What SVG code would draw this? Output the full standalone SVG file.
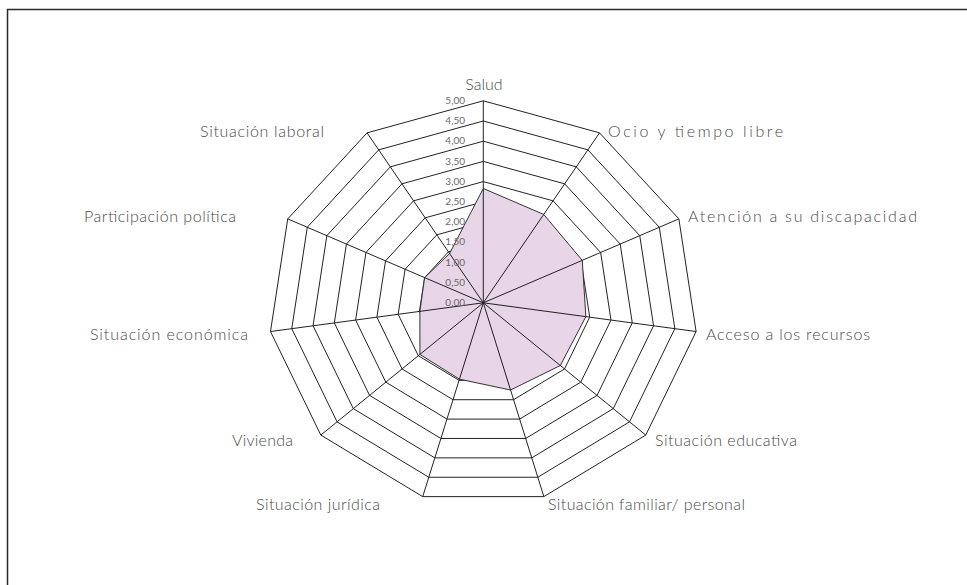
<svg xmlns="http://www.w3.org/2000/svg" width="967" height="585" viewBox="0 0 967 585">
<style>
.ring{fill:none;stroke:#222;stroke-width:1}
.spoke{stroke:#222;stroke-width:1}
.data{fill:#E8D5E8;stroke:#333;stroke-width:1}
.tick{font-family:Lato,"Liberation Sans",sans-serif;font-size:10px;fill:#6a6a6a;text-anchor:end}
.lab{font-family:Lato,"Liberation Sans",sans-serif;font-weight:300;font-size:16px;fill:#4a4a4a}
</style>
<rect x="0" y="0" width="967" height="585" fill="#fff"/>
<rect x="7.5" y="9.5" width="980" height="600" fill="none" stroke="#2a2a2a" stroke-width="1.5"/>
<g id="grid" transform="translate(483.3 302.8)">
<polygon class="ring" points="0,-20.2 11.62,-16.99 19.56,-8.39 21.28,2.87 16.25,13.23 6.06,19.38 -6.06,19.38 -16.25,13.23 -21.28,2.87 -19.56,-8.39 -11.62,-16.99"/>
<polygon class="ring" points="0,-40.4 23.25,-33.99 39.11,-16.78 42.56,5.75 32.5,26.46 12.11,38.76 -12.11,38.76 -32.5,26.46 -42.56,5.75 -39.11,-16.78 -23.25,-33.99"/>
<polygon class="ring" points="0,-60.6 34.87,-50.98 58.67,-25.17 63.84,8.62 48.74,39.69 18.17,58.15 -18.17,58.15 -48.74,39.69 -63.84,8.62 -58.67,-25.17 -34.87,-50.98"/>
<polygon class="ring" points="0,-80.8 46.49,-67.98 78.22,-33.56 85.12,11.5 64.99,52.92 24.23,77.53 -24.23,77.53 -64.99,52.92 -85.12,11.5 -78.22,-33.56 -46.49,-67.98"/>
<polygon class="ring" points="0,-101 58.12,-84.97 97.78,-41.96 106.41,14.37 81.24,66.15 30.29,96.91 -30.29,96.91 -81.24,66.15 -106.41,14.37 -97.78,-41.96 -58.12,-84.97"/>
<polygon class="ring" points="0,-121.2 69.74,-101.96 117.34,-50.35 127.69,17.24 97.49,79.37 36.34,116.29 -36.34,116.29 -97.49,79.37 -127.69,17.24 -117.34,-50.35 -69.74,-101.96"/>
<polygon class="ring" points="0,-141.4 81.36,-118.96 136.89,-58.74 148.97,20.12 113.74,92.6 42.4,135.67 -42.4,135.67 -113.74,92.6 -148.97,20.12 -136.89,-58.74 -81.36,-118.96"/>
<polygon class="ring" points="0,-161.6 92.98,-135.95 156.45,-67.13 170.25,22.99 129.98,105.83 48.46,155.06 -48.46,155.06 -129.98,105.83 -170.25,22.99 -156.45,-67.13 -92.98,-135.95"/>
<polygon class="ring" points="0,-181.8 104.61,-152.95 176,-75.52 191.53,25.87 146.23,119.06 54.51,174.44 -54.51,174.44 -146.23,119.06 -191.53,25.87 -176,-75.52 -104.61,-152.95"/>
<polygon class="ring" points="0,-202 116.23,-169.94 195.56,-83.91 212.81,28.74 162.48,132.29 60.57,193.82 -60.57,193.82 -162.48,132.29 -212.81,28.74 -195.56,-83.91 -116.23,-169.94"/>
</g>
<g id="serie" transform="translate(483.3 302.8)">
<polygon class="data" points="0,-114.3 60.44,-88.37 98.95,-42.46 102.57,13.85 77.02,62.71 27.26,87.22 -23.86,76.37 -63.37,51.59 -63.42,8.56 -58.67,-25.17 -33.71,-49.28"/>
</g>
<g id="connectors" transform="translate(483.3 302.8)">
<line class="spoke" x1="0" y1="0" x2="0" y2="-202"/>
<line class="spoke" x1="0" y1="0" x2="116.23" y2="-169.94"/>
<line class="spoke" x1="0" y1="0" x2="195.56" y2="-83.91"/>
<line class="spoke" x1="0" y1="0" x2="212.81" y2="28.74"/>
<line class="spoke" x1="0" y1="0" x2="162.48" y2="132.29"/>
<line class="spoke" x1="0" y1="0" x2="60.57" y2="193.82"/>
<line class="spoke" x1="0" y1="0" x2="-60.57" y2="193.82"/>
<line class="spoke" x1="0" y1="0" x2="-162.48" y2="132.29"/>
<line class="spoke" x1="0" y1="0" x2="-212.81" y2="28.74"/>
<line class="spoke" x1="0" y1="0" x2="-195.56" y2="-83.91"/>
<line class="spoke" x1="0" y1="0" x2="-116.23" y2="-169.94"/>
</g>
<g id="ticks">
<text class="tick" x="465" y="306">0,00</text>
<text class="tick" x="465" y="285.8">0,50</text>
<text class="tick" x="465" y="265.6">1,00</text>
<text class="tick" x="465" y="245.4">1,50</text>
<text class="tick" x="465" y="225.2">2,00</text>
<text class="tick" x="465" y="205">2,50</text>
<text class="tick" x="465" y="184.8">3,00</text>
<text class="tick" x="465" y="164.6">3,50</text>
<text class="tick" x="465" y="144.4">4,00</text>
<text class="tick" x="465" y="124.2">4,50</text>
<text class="tick" x="465" y="104">5,00</text>
</g>
<g id="n-salud"><text class="lab" x="484" y="90" text-anchor="middle">Salud</text></g>
<g id="n-ocio"><text class="lab" x="608" y="137" textLength="175" lengthAdjust="spacing">Ocio y tiempo libre</text></g>
<g id="n-atencion"><text class="lab" x="688" y="222" textLength="229" lengthAdjust="spacing">Atención a su discapacidad</text></g>
<g id="n-acceso"><text class="lab" x="706" y="340" textLength="164" lengthAdjust="spacing">Acceso a los recursos</text></g>
<g id="n-educativa"><text class="lab" x="655" y="446" textLength="142" lengthAdjust="spacing">Situación educativa</text></g>
<g id="n-familiar"><text class="lab" x="548" y="510" textLength="197" lengthAdjust="spacing">Situación familiar/ personal</text></g>
<g id="n-juridica"><text class="lab" x="380" y="510" text-anchor="end" textLength="124" lengthAdjust="spacing">Situación jurídica</text></g>
<g id="n-vivienda"><text class="lab" x="293" y="446" text-anchor="end" textLength="61" lengthAdjust="spacing">Vivienda</text></g>
<g id="n-economica"><text class="lab" x="248" y="340" text-anchor="end" textLength="158" lengthAdjust="spacing">Situación económica</text></g>
<g id="n-participacion"><text class="lab" x="236" y="222" text-anchor="end" textLength="152" lengthAdjust="spacing">Participación política</text></g>
<g id="n-laboral"><text class="lab" x="324" y="137" text-anchor="end" textLength="124" lengthAdjust="spacing">Situación laboral</text></g>
</svg>
